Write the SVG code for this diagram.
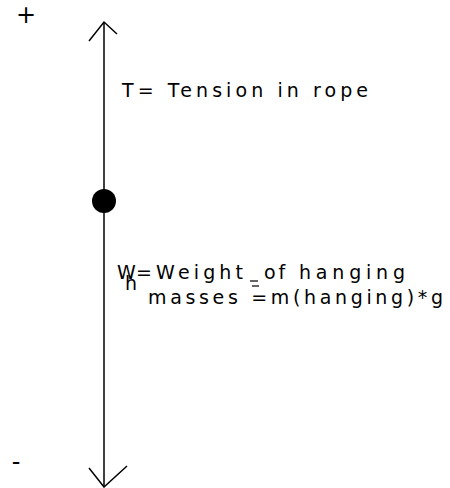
<svg xmlns="http://www.w3.org/2000/svg" width="450" height="488" viewBox="0 0 450 488">
<style>
.t{font-family:"DejaVu Sans","Liberation Sans",sans-serif;font-size:19px;fill:#000}
.s{font-size:24px}
.ln{stroke:#000;stroke-width:1.5;fill:none}
.mk{stroke:#000;stroke-width:1.2}
</style>
<rect width="450" height="488" fill="#fff"/>
<g id="connectors">
<line class="ln" x1="104" y1="22" x2="104" y2="487"/>
<polyline class="ln" points="89,41 104,22 117,34"/>
<polyline class="ln" points="89,468 104,487 127,466"/>
</g>
<g id="plus"><text class="t s" x="26" y="23" text-anchor="middle">+</text></g>
<g id="minus"><text class="t s" x="16" y="470" text-anchor="middle">-</text></g>
<g id="mass"><circle cx="104" cy="201" r="12" fill="#000"/></g>
<g id="tension"><text class="t" x="122" y="97" textLength="246">T= Tension in rope</text></g>
<g id="weight">
<text class="t" x="117" y="279">W</text>
<text class="t" x="125" y="290" font-size="14">h</text>
<text class="t" x="136" y="279" textLength="107">=Weight</text>
<line class="mk" x1="250" y1="281" x2="258" y2="281"/>
<text class="t" x="264" y="279" letter-spacing="3">of</text>
<text class="t" x="299" y="279" textLength="106">hanging</text>
<text class="t" x="148" y="304" textLength="295">masses =m(hanging)*g</text>
<line class="mk" x1="252" y1="286" x2="259" y2="286"/>
</g>
</svg>
